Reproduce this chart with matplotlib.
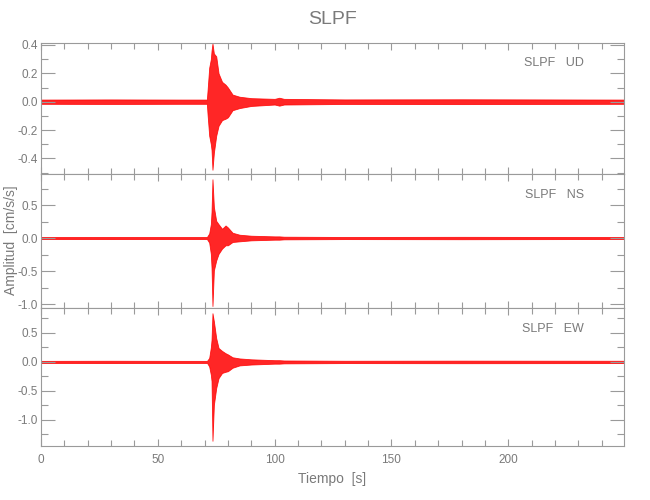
import numpy as np
import matplotlib
matplotlib.use("Agg")
import matplotlib.pyplot as plt
from matplotlib.ticker import MultipleLocator

# envelope of each trace (time in s, amplitude in cm/s/s)
t_env = [0, 30, 60, 71.0, 71.3, 72.0, 72.7, 73.0, 73.4, 74.0, 75.0, 76.0, 77.5,
         79.0, 80.0, 82.0, 85.0, 90.0, 100.0, 102.0, 104.0, 130, 180, 249.5]

ud_hi = [0.015, 0.016, 0.015, 0.015, 0.08, 0.24, 0.30, 0.36, 0.41, 0.34, 0.32,
         0.20, 0.14, 0.12, 0.10, 0.05, 0.035, 0.025, 0.02, 0.028, 0.02, 0.016, 0.017, 0.015]
ud_lo = [-0.015, -0.016, -0.015, -0.015, -0.09, -0.24, -0.30, -0.34, -0.48, -0.36, -0.24,
         -0.17, -0.13, -0.12, -0.11, -0.06, -0.045, -0.03, -0.02, -0.028, -0.02, -0.016, -0.017, -0.015]

ns_hi = [0.015, 0.016, 0.015, 0.015, 0.03, 0.07, 0.21, 0.40, 0.89, 0.47, 0.26,
         0.21, 0.14, 0.19, 0.16, 0.08, 0.05, 0.035, 0.025, 0.025, 0.02, 0.016, 0.018, 0.015]
ns_lo = [-0.015, -0.016, -0.015, -0.015, -0.03, -0.07, -0.24, -0.45, -1.03, -0.49, -0.34,
         -0.24, -0.16, -0.11, -0.11, -0.06, -0.05, -0.035, -0.025, -0.025, -0.02, -0.016, -0.018, -0.015]

ew_hi = [0.018, 0.02, 0.018, 0.018, 0.03, 0.07, 0.25, 0.38, 0.84, 0.70, 0.41,
         0.24, 0.19, 0.15, 0.13, 0.08, 0.06, 0.045, 0.03, 0.03, 0.025, 0.02, 0.022, 0.02]
ew_lo = [-0.018, -0.02, -0.018, -0.018, -0.03, -0.08, -0.22, -0.33, -1.36, -0.74, -0.45,
         -0.28, -0.19, -0.17, -0.16, -0.10, -0.06, -0.045, -0.03, -0.03, -0.025, -0.02, -0.022, -0.02]

comps = ["UD", "NS", "EW"]
his = [ud_hi, ns_hi, ew_hi]
los = [ud_lo, ns_lo, ew_lo]
ylims = [(-0.51, 0.414), (-1.06, 0.97), (-1.45, 0.93)]
ymaj = [0.2, 0.5, 0.5]
ymin = [0.1, 0.25, 0.25]

gray = "#7a7a7a"
spine = "#9a9a9a"
plt.rcParams['font.family'] = ['Liberation Sans', 'DejaVu Sans']

fig = plt.figure(figsize=(6.5, 5), dpi=100)
gs = fig.add_gridspec(3, 1, height_ratios=[131, 134, 138], hspace=0,
                      left=0.063, right=0.96, top=0.914, bottom=0.108)

for i in range(3):
    ax = fig.add_subplot(gs[i])
    t = np.array(t_env)
    ax.fill_between(t, los[i], his[i], color="red", lw=0.6, alpha=0.85)
    ax.set_xlim(0, 249.5)
    ax.set_ylim(*ylims[i])
    ax.xaxis.set_major_locator(MultipleLocator(50))
    ax.xaxis.set_minor_locator(MultipleLocator(10))
    ax.yaxis.set_major_locator(MultipleLocator(ymaj[i]))
    ax.yaxis.set_minor_locator(MultipleLocator(ymin[i]))
    ax.tick_params(which='both', direction='in', top=True, right=True,
                   colors=spine, labelcolor=gray, labelsize=8.5, width=0.8)
    ax.tick_params(axis='y', which='major', length=10, pad=2)
    ax.tick_params(axis='y', which='minor', length=5)
    ax.tick_params(axis='x', which='major', length=5, pad=6)
    ax.tick_params(axis='x', which='minor', length=4)
    for s in ax.spines.values():
        s.set_color(spine)
        s.set_linewidth(0.8)
    ax.yaxis.set_major_formatter(plt.FormatStrFormatter('%.1f'))
    if i < 2:
        ax.tick_params(labelbottom=False)
    ax.text(0.931, 0.845, "SLPF   " + comps[i], transform=ax.transAxes,
            ha='right', va='center', color=gray, fontsize=9)
    if i == 0:
        ax.set_title("SLPF", color=gray, fontsize=14, pad=14)
    if i == 2:
        ax.set_xlabel("Tiempo  [s]", color=gray, fontsize=10, labelpad=4)

fig.text(11 / 650, 1 - 240 / 500, "Amplitud  [cm/s/s]", rotation=90,
         ha='center', va='center', color=gray, fontsize=10)

fig.savefig("out.png", dpi=100)
